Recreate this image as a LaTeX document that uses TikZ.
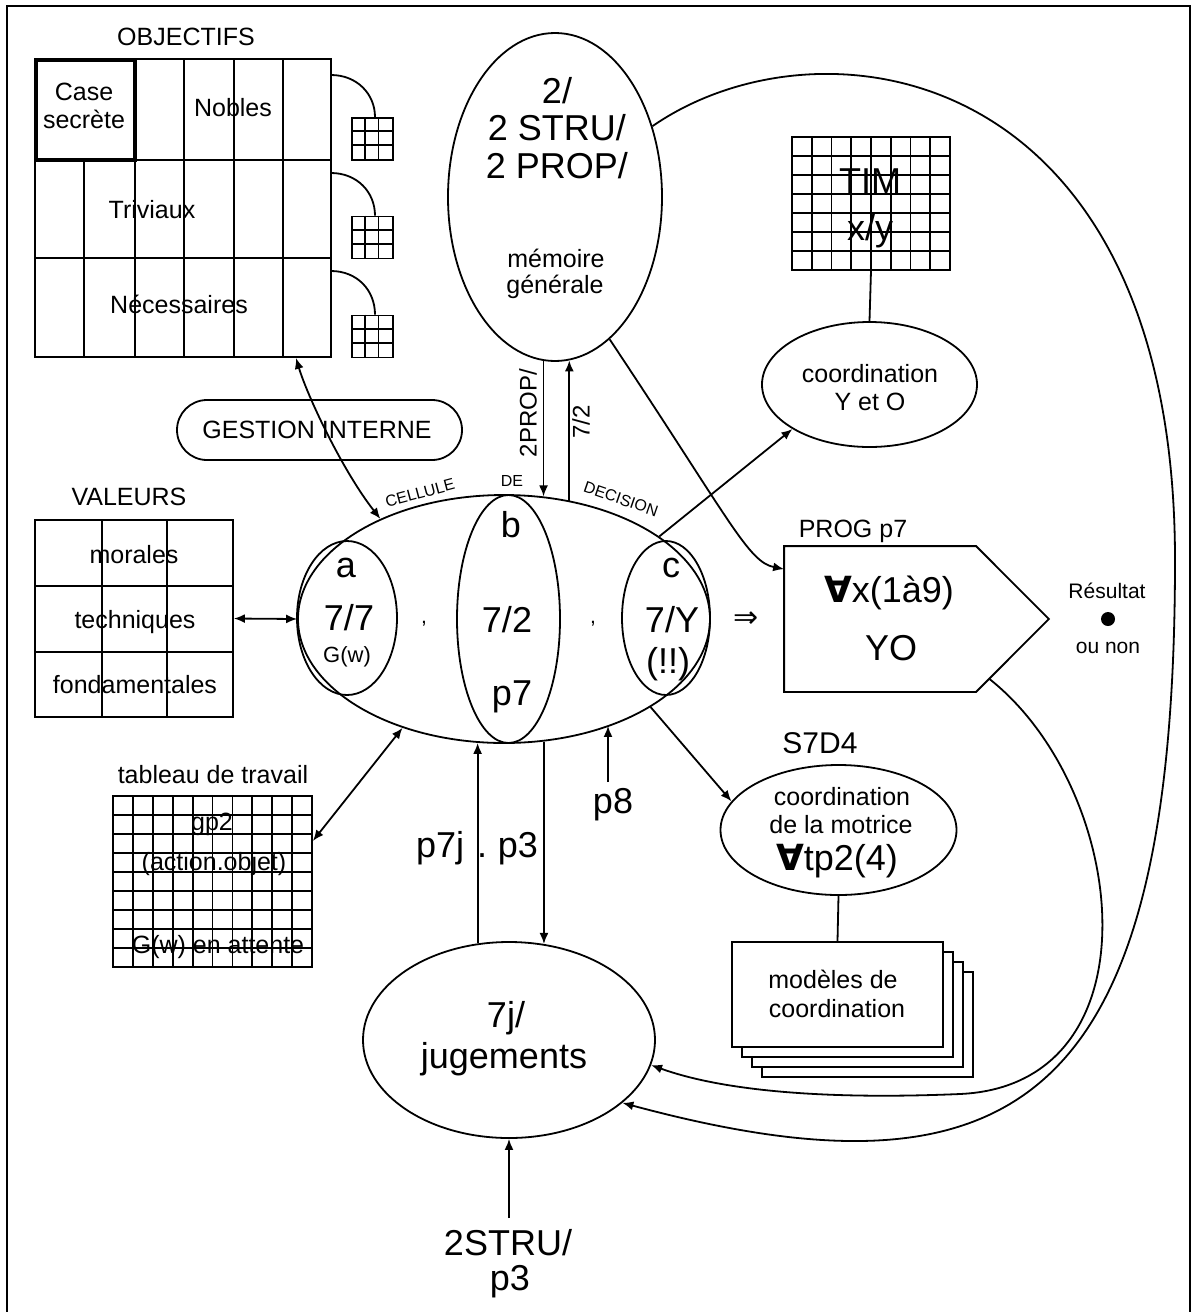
\documentclass[tikz,border=0pt]{standalone}
\usepackage{fontspec}
\setmainfont{Liberation Sans}
\newfontfamily\dejavu{DejaVu Sans}
\usetikzlibrary{arrows.meta,calc,shapes.geometric}
\tikzset{
  fmed/.style={font=\fontsize{25}{28}\selectfont},
  fbig/.style={font=\fontsize{36}{38}\selectfont},
  fsmall/.style={font=\fontsize{16}{18}\selectfont},
  fres/.style={font=\fontsize{21}{24}\selectfont},
  frot/.style={font=\fontsize{24}{26}\selectfont},
  lbl/.style={inner sep=0pt, anchor=base},
  tip/.style={-{Latex[length=11pt,width=9pt]}},
  tips/.style={{Latex[length=11pt,width=9pt]}-{Latex[length=11pt,width=9pt]}},
  ell/.style={draw, ellipse, inner sep=0pt},
  box/.style={draw, rectangle, inner sep=0pt},
}
\begin{document}
\begin{tikzpicture}[x=1pt,y=-1pt,line width=1.8pt]
\useasboundingbox (0,0) rectangle (1197,1312);
% frame
\draw (7,1312) -- (7,6) -- (1190,6) -- (1190,1312);

% ---------- OBJECTIFS ----------
\node[lbl,fmed] (tobj) at (186,45) {OBJECTIFS};
\node[box, minimum width=296pt, minimum height=298pt] (obj) at (183,208) {};
\draw (35,160) -- (331,160);
\draw (35,258) -- (331,258);
\foreach \x in {184,234,283} \draw (\x,59) -- (\x,160);
\foreach \x in {84,135,184,234,283} \draw (\x,160) -- (\x,357);
\draw[line width=4pt] (36,60) rectangle (135,160);
\node[lbl,fmed] (tcase) at (84,100) {Case};
\node[lbl,fmed] (tsecr) at (84,128) {secrète};
\node[lbl,fmed] (tnob) at (233,116) {Nobles};
\node[lbl,fmed] (ttri) at (152,218) {Triviaux};
\node[lbl,fmed] (tnec) at (179,313) {Nécessaires};
% small grids
\foreach \n/\yc in {g1/139,g2/237.5,g3/336.5}{
  \node[box, minimum width=41pt, minimum height=42pt] (\n) at (372.5,\yc) {};
  \draw ($(\n.north west)+(13.7,0)$) -- ($(\n.south west)+(13.7,0)$);
  \draw ($(\n.north west)+(27.3,0)$) -- ($(\n.south west)+(27.3,0)$);
  \draw ($(\n.north west)+(0,14)$) -- ($(\n.north east)+(0,14)$);
  \draw ($(\n.north west)+(0,28)$) -- ($(\n.north east)+(0,28)$);
}
\coordinate (a1) at (331,75);
\coordinate (a2) at (331,173);
\coordinate (a3) at (331,271);
\draw (a1) .. controls (357,75) and (375,94) .. ([xshift=2.5pt]g1.north);
\draw (a2) .. controls (357,173) and (375,192) .. ([xshift=2.5pt]g2.north);
\draw (a3) .. controls (357,271) and (375,290) .. ([xshift=2.5pt]g3.north);

% ---------- memoire ----------
\node[ell, minimum width=214pt, minimum height=328pt] (memo) at (555,197) {};
\node[lbl,fbig] (tm1) at (557,103) {2/};
\node[lbl,fbig] (tm2) at (557,140) {2 STRU/};
\node[lbl,fbig] (tm3) at (557,178) {2 PROP/};
\node[lbl,fmed] (tm4) at (556,267) {mémoire};
\node[lbl,fmed] (tm5) at (555,293) {générale};

% ---------- TIM ----------
\node[box, minimum width=158pt, minimum height=133pt] (tim) at (871,203.5) {};
\foreach \i in {1,...,7} \draw (792+\i*19.75,137) -- (792+\i*19.75,270);
\foreach \j in {1,...,6} \draw (792,137+\j*19) -- (950,137+\j*19);
\node[lbl,fbig] (ttim) at (870,193) {TIM};
\node[lbl,fbig] (txy) at (870,240) {x/y};
\node[ell, minimum width=215pt, minimum height=125pt] (coyo) at (869.5,384.5) {};
\node[lbl,fmed] (tco1) at (870,382) {coordination};
\node[lbl,fmed] (tco2) at (870,410) {Y et O};
\draw (tim.south) -- (coyo.north);

% ---------- GESTION INTERNE ----------
\node[draw, rounded corners=30pt, minimum width=285pt, minimum height=60pt, inner sep=0pt] (gest) at (319.5,430) {};
\node[lbl,fmed] (tgest) at (317,438) {GESTION INTERNE};

% ---------- VALEURS ----------
\node[lbl,fmed] (tval) at (129,505) {VALEURS};
\node[box, minimum width=198pt, minimum height=197pt] (val) at (134,618.5) {};
\draw (35,586) -- (233,586);
\draw (35,652) -- (233,652);
\draw (102,520) -- (102,717);
\draw (167,520) -- (167,717);
\node[lbl,fmed] (tmor) at (134,563) {morales};
\node[lbl,fmed] (ttec) at (135,628) {techniques};
\node[lbl,fmed] (tfon) at (135,693) {fondamentales};

% ---------- cellule de decision ----------
\node[ell, minimum width=412pt, minimum height=248pt] (cell) at (504,619) {};
\node[ell, minimum width=100pt, minimum height=154pt] (ea) at (347,618) {};
\node[ell, minimum width=103pt, minimum height=248pt] (eb) at (508.5,619) {};
\node[ell, minimum width=88pt, minimum height=154pt] (ec) at (666,618) {};
\node[lbl,fbig] (ta1) at (346,577) {a};
\node[lbl,fbig] (ta2) at (349,630) {7/7};
\node[lbl,font=\fontsize{22}{24}\selectfont] (ta3) at (347,662) {G(w)};
\node[lbl,fbig] (tb1) at (511,537) {b};
\node[lbl,fbig] (tb2) at (507,632) {7/2};
\node[lbl,fbig] (tb3) at (512,705) {p7};
\node[lbl,fbig] (tc1) at (671,577) {c};
\node[lbl,fbig] (tc2) at (672,632) {7/Y};
\node[lbl,fbig] (tc3) at (668,673) {(!!)};
\node[lbl,fres] (tcm1) at (424,623) {,};
\node[lbl,fres] (tcm2) at (593,623) {,};
\node[fsmall,rotate=15,inner sep=0pt] (tcel) at (420,493) {CELLULE};
\node[fsmall,inner sep=0pt] (tde) at (512,481) {DE};
\node[fsmall,rotate=-19,inner sep=0pt] (tdec) at (621,499) {DECISION};
\node[font=\dejavu\fontsize{30}{32}\selectfont, inner sep=0pt] (timp) at (746,620) {⇒};

% ---------- PROG ----------
\node[minimum width=263pt, minimum height=144pt, inner sep=0pt] (prog) at (916.5,619) {};
\draw (prog.north west) -- ++(192,0) -- (prog.east) -- ([xshift=192pt]prog.south west) -- (prog.south west) -- cycle;
\node[lbl,fmed] (tprog) at (853,537) {PROG p7};
\node[lbl,fbig] (tpr1) at (889,602) {{\dejavu\bfseries ∀}x(1à9)};
\node[lbl,fbig] (tpr2) at (891,660) {YO};
\node[lbl,fres] (tres1) at (1107,598) {Résultat};
\node[circle, fill, minimum size=14pt, inner sep=0pt] (dot) at (1108,619) {};
\node[lbl,fres] (tres2) at (1108,653) {ou non};

% ---------- tableau de travail ----------
\node[lbl,fmed] (ttab) at (213,783) {tableau de travail};
\node[box, minimum width=199pt, minimum height=171pt] (tab) at (212.5,881.5) {};
\foreach \i in {1,...,9} \draw (113+\i*19.9,796) -- (113+\i*19.9,967);
\foreach \j in {1,...,8} \draw (113,796+\j*19) -- (312,796+\j*19);
\node[lbl,fmed] (tgp) at (212,830) {gp2};
\node[lbl,fmed] (tact) at (214,870) {(action.objet)};
\node[lbl,fmed] (tatt) at (218,953) {G(w) en attente};

% ---------- S7D4 ----------
\node[lbl,font=\fontsize{30}{32}\selectfont] (ts7) at (820,753) {S7D4};
\node[ell, minimum width=236pt, minimum height=130pt] (s7) at (838.5,830) {};
\node[lbl,fmed] (ts71) at (842,805) {coordination};
\node[lbl,fmed] (ts72) at (841,833) {de la motrice};
\node[lbl,fbig] (ts73) at (837,870) {{\dejavu\bfseries ∀}tp2(4)};
\foreach \o in {30,20,10} \draw[fill=white] (732+\o,942+\o) rectangle (943+\o,1047+\o);
\node[box, fill=white, minimum width=211pt, minimum height=105pt] (mod) at (837.5,994.5) {};
\node[lbl,fmed] (tmod1) at (833,988) {modèles de};
\node[lbl,fmed] (tmod2) at (837,1017) {coordination};
\draw (s7.south) -- (mod.north);

% ---------- jugements ----------
\node[ell, minimum width=292pt, minimum height=196pt] (jug) at (509,1040) {};
\node[lbl,fbig] (tj1) at (506,1027) {7j/};
\node[lbl,fbig] (tj2) at (504,1068) {jugements};
\node[lbl,fbig] (tst1) at (508,1255) {2STRU/};
\node[lbl,fbig] (tst2) at (510,1290) {p3};
\node[fbig,inner sep=0pt,anchor=base east] (tp7j) at (465,857) {p7j};
\node[fbig,inner sep=0pt,anchor=base] (tdot) at (482,857) {.};
\node[fbig,inner sep=0pt,anchor=base west] (tp3) at (497,857) {p3};
\node[lbl,fbig] (tp8) at (613,813) {p8};
\node[frot,rotate=90,inner sep=0pt] (t2prop) at (528,413) {2PROP/};
\node[frot,rotate=90,inner sep=0pt] (t72) at (581,422) {7/2};

% ---------- connectors ----------
\draw[tips] (obj.-53.8) .. controls (307,395) and (342,470) .. (cell.141.3);
\draw[tips] (val.east) -- (cell.west);
\draw[tips] (tab.22.4) -- (cell.-133);
\draw[tip] (memo.-94.57) -- (memo.-94.57 |- cell.72.7);
\draw[tip] (memo.-85.43 |- cell.61.5) -- (memo.-85.43);
\draw[tip] (memo.-69) .. controls (730,520) and (748,562) .. ([yshift=-23pt]prog.north west);
\draw[tip] (cell.28.5) -- (coyo.-150);
\draw[tip] (cell.-31.5) -- (s7.165.7);
\draw[tip] (jug.108.5) -- (jug.108.5 |- cell.-102.4);
\draw[tip] (jug.70.9 |- cell.-72.7) -- (jug.70.9);
\coordinate (p8s) at (608,782);
\draw[tip] (p8s) -- (p8s |- cell.-45.8);
\coordinate (bs) at (509,1218);
\draw[tip] (bs) -- (jug.south);
\coordinate (pb) at ($(prog.east)!0.82!([xshift=192pt]prog.south west)$);
\draw[tip] (memo.36) .. controls (820,10) and (1175,60) .. (1175,560) .. controls (1175,1100) and (1020,1210) .. (jug.-29);
\draw[tip] (pb) .. controls (1130,790) and (1160,1085) .. (960,1094) .. controls (820,1100) and (720,1090) .. (jug.-10);
\end{tikzpicture}
\end{document}
